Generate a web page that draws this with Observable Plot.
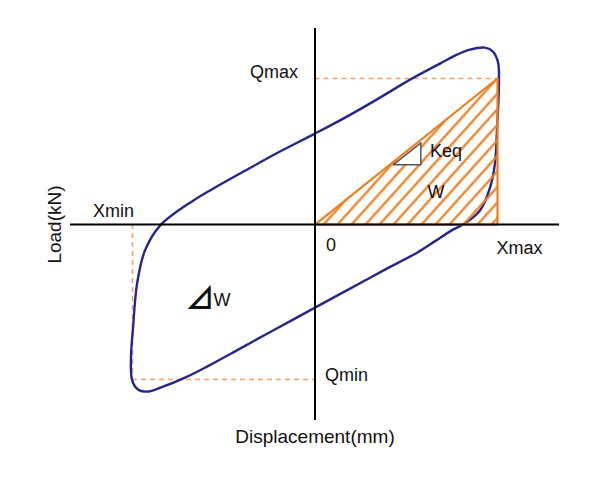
<!DOCTYPE html>
<html><head><meta charset="utf-8">
<script src="https://cdn.jsdelivr.net/npm/d3@7"></script>
<script src="https://cdn.jsdelivr.net/npm/@observablehq/plot@0.6"></script>
<style>body{margin:0;background:#fff} svg{display:block}</style>
</head><body><div id="chart"></div>
<script>
// Key values (arbitrary units)
const Xmin = -100, Xmax = 100, Qmin = -106, Qmax = 100;

// Hysteresis loop, traced clockwise
const loopX = [-84.9,-66.8,-55.9,-37.3,-19.2,0,17.5,35.6,52.1,68.5,76.7,84.9,93.2,97.5,100.3,100.8,99.7,98.6,95.9,90.4,81.1,75.6,65.8,55.9,37.3,19.2,0,-23.0,-41.1,-59.2,-71.2,-83.3,-92.1,-97.5,-100.3,-100.8,-99.7,-97.5,-93.2];
const loopY = [-0.7,16.4,24.6,37.6,50.0,62.3,73.9,86.9,99.2,110.2,115.7,119.8,121.1,118.4,110.9,98.6,64.3,41.8,25.3,9.6,0,-3.4,-11.3,-19.2,-31.5,-43.8,-56.8,-72.5,-84.9,-97.2,-104.7,-110.9,-114.3,-112.3,-106.1,-89.7,-70.5,-40.4,-17.8];

// Secant-stiffness triangle and its slope marker
const triX = [0, Xmax, Xmax], triY = [0, Qmax, 0];
const keqX = [43, 58, 58], keqY = [41, 41, 56];

// Annotation labels (text, x, y)
const keqLabel = {t: "Keq", x: 63, y: 50};
const wLabel = {t: "W", x: 66.3, y: 22.5};
const dwLabel = {x: -58.9, y: -52};

const loop = loopX.map((x, i) => ({x, y: loopY[i]}));
const tri = triX.map((x, i) => ({x, y: triY[i]}));
const keq = keqX.map((x, i) => ({x, y: keqY[i]}));

const ORANGE = "#f07d1e", DASH = "#f2a365", BLUE = "#26268c";
const font = "Liberation Sans, Arial, 'Noto Sans CJK JP', sans-serif";
const fs = 18;
const lab = {fontSize: fs, fill: "#111"};

const chart = Plot.plot({
  width: 616, height: 490,
  marginLeft: 70, marginRight: 57, marginTop: 28, marginBottom: 70,
  style: {fontFamily: font, background: "white"},
  x: {domain: [Xmin, Xmax], range: [132, 497], axis: null},
  y: {domain: [Qmin, Qmax], range: [379, 78], axis: null},
  marks: [
    // dashed reference lines
    Plot.ruleY([Qmax], {x1: 0, x2: Xmax, stroke: DASH, strokeWidth: 1.6, strokeDasharray: "5,4"}),
    Plot.ruleY([Qmin], {x1: Xmin, x2: 0, stroke: DASH, strokeWidth: 1.6, strokeDasharray: "5,4"}),
    Plot.ruleX([Xmin], {y1: 0, y2: Qmin, stroke: DASH, strokeWidth: 1.6, strokeDasharray: "5,4"}),
    // loop
    Plot.line(loop, {x: "x", y: "y", curve: "catmull-rom-closed", stroke: BLUE, strokeWidth: 2.4}),
    // hatched triangle
    Plot.line(tri, {x: "x", y: "y", curve: "linear-closed", fill: "url(#hatch)", stroke: ORANGE, strokeWidth: 2.2}),
    Plot.line(keq, {x: "x", y: "y", curve: "linear-closed", fill: "white", stroke: "#555", strokeWidth: 1.5}),
    // axes
    Plot.ruleY([0], {stroke: "black", strokeWidth: 2}),
    Plot.ruleX([0], {stroke: "black", strokeWidth: 2}),
    // labels
    Plot.text(["Qmax"], {x: 0, y: Qmax, textAnchor: "end", dx: -17, dy: -6, ...lab}),
    Plot.text(["Qmin"], {x: 0, y: Qmin, textAnchor: "start", dx: 10, dy: -4, ...lab}),
    Plot.text(["Xmin"], {x: Xmin, y: 0, textAnchor: "middle", dx: -19, dy: -13, ...lab}),
    Plot.text(["Xmax"], {x: Xmax, y: 0, textAnchor: "start", dx: -1, dy: 24, ...lab}),
    Plot.text(["0"], {x: 0, y: 0, textAnchor: "start", dx: 11, dy: 21, ...lab}),
    Plot.text([keqLabel], {x: "x", y: "y", text: "t", textAnchor: "start", ...lab}),
    Plot.text([wLabel], {x: "x", y: "y", text: "t", textAnchor: "middle", ...lab}),
    Plot.text([dwLabel], {x: "x", y: "y", text: () => "\u22BF", textAnchor: "end", dx: 7, dy: -1, fill: "#111",
      fontFamily: "'Noto Sans CJK JP', sans-serif", fontSize: 29, fontWeight: "bold"}),
    Plot.text([dwLabel], {x: "x", y: "y", text: () => "W", textAnchor: "start", dx: 6, ...lab}),
    Plot.text(["Load(kN)"], {frameAnchor: "left", dx: -16, rotate: -90, textAnchor: "middle", lineAnchor: "middle", fontSize: 19, fill: "#111"}),
    Plot.text(["Displacement(mm)"], {frameAnchor: "bottom", dy: 16, textAnchor: "middle", lineAnchor: "middle", fontSize: 19, fill: "#111"})
  ]
});

d3.select(chart).insert("defs", ":first-child").html(
  `<pattern id="hatch" patternUnits="userSpaceOnUse" width="10.4" height="10.4" patternTransform="rotate(42)">
     <line x1="5.2" y1="-1" x2="5.2" y2="11.4" stroke="${ORANGE}" stroke-width="2.2"/>
   </pattern>`);

document.getElementById("chart").append(chart);
</script>
</body></html>
